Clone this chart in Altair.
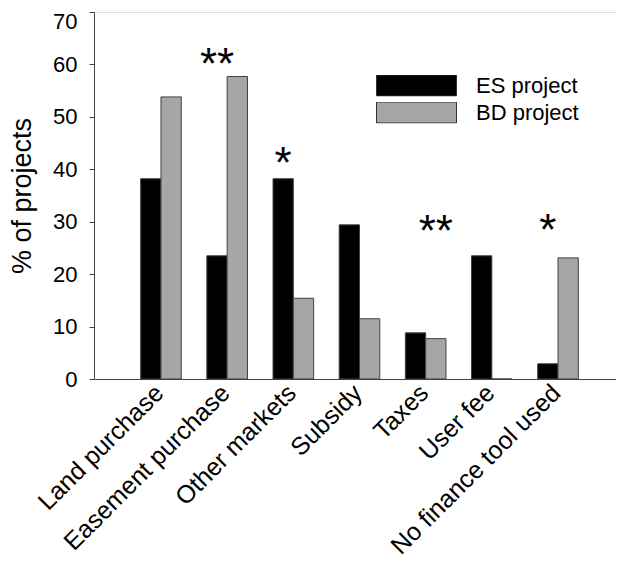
import altair as alt
import pandas as pd

categories = ["Land purchase", "Easement purchase", "Other markets", "Subsidy",
              "Taxes", "User fee", "No finance tool used"]
series_names = ["ES project", "BD project"]
es_values = [38.2, 23.5, 38.2, 29.4, 8.8, 23.5, 2.9]
bd_values = [53.8, 57.7, 15.4, 11.5, 7.7, 0.0, 23.1]

star_categories = ["Easement purchase", "Other markets", "Taxes", "No finance tool used"]
star_series = ["ES project", "ES project", "BD project", "ES project"]
star_marks = ["**", "*", "**", "*"]
star_heights = [57.3, 38.4, 25.3, 25.5]

y_ticks = [0, 10, 20, 30, 40, 50, 60, 70]

rows = []
for c, e, b in zip(categories, es_values, bd_values):
    rows.append({"category": c, "series": "ES project", "value": e})
    rows.append({"category": c, "series": "BD project", "value": b})
bars_df = pd.DataFrame(rows)
stars_df = pd.DataFrame({"category": star_categories, "series": star_series,
                         "mark": star_marks, "value": star_heights})

FONT = "Liberation Sans"
x_scale = alt.Scale(domain=categories, paddingInner=0, paddingOuter=0.4443, align=0.5765)
xoff_scale = alt.Scale(domain=series_names, paddingInner=0, paddingOuter=0.63)
y_scale = alt.Scale(domain=[0, 70], nice=False, zero=True)

x_axis = alt.Axis(title=None, labelAngle=-45, labelAlign="right", labelBaseline="top",
                  labelFontSize=25, labelFont=FONT, labelColor="black", labelPadding=1,
                  labelOffset=-10, ticks=False, tickSize=0, domainColor="#444",
                  domainWidth=1, labelLimit=400, grid=False)
y_axis = alt.Axis(title="% of projects", values=y_ticks, grid=False, tickSize=5,
                  tickColor="#444", domainColor="#444", labelFontSize=22, labelFont=FONT,
                  labelPadding=12, labelColor="black", titleFontSize=27,
                  titleFont=FONT, titleFontWeight="normal", titleColor="black",
                  titlePadding=16,
                  labelOffset=alt.ExprRef("datum.value == 70 ? 9 : 0"))

legend = alt.Legend(title=None, orient="none", legendX=282, legendY=63,
                    symbolType="M-1,-0.2625H1V0.2625H-1Z", symbolSize=6400,
                    symbolStrokeColor="#333", symbolStrokeWidth=1, symbolOpacity=1,
                    labelFontSize=22, labelFont=FONT, labelColor="black",
                    labelOffset=19, clipHeight=21, rowPadding=4, padding=0)

bars = alt.Chart(bars_df).mark_bar(stroke="#404040", strokeWidth=1).encode(
    x=alt.X("category:N", scale=x_scale, sort=categories, axis=x_axis),
    xOffset=alt.XOffset("series:N", scale=xoff_scale, sort=series_names),
    y=alt.Y("value:Q", scale=y_scale, axis=y_axis),
    fill=alt.Fill("series:N", sort=series_names,
                  scale=alt.Scale(domain=series_names, range=["#000000", "#a6a6a6"]),
                  legend=legend),
)

stars = alt.Chart(stars_df).mark_text(fontSize=44, font=FONT, baseline="alphabetic",
                                      align="center", color="black").encode(
    x=alt.X("category:N", scale=x_scale, sort=categories, axis=x_axis),
    xOffset=alt.XOffset("series:N", scale=xoff_scale, sort=series_names),
    y=alt.Y("value:Q", scale=y_scale, axis=y_axis),
    text="mark:N",
)

chart = alt.layer(bars, stars).properties(
    width=522, height=367,
    padding={"left": 86, "top": 4, "right": 0, "bottom": 186},
    autosize=alt.AutoSizeParams(type="none"),
).configure_view(stroke=None).configure(font=FONT)

chart.save("out.html", embed_options={"renderer": "svg", "actions": False})
